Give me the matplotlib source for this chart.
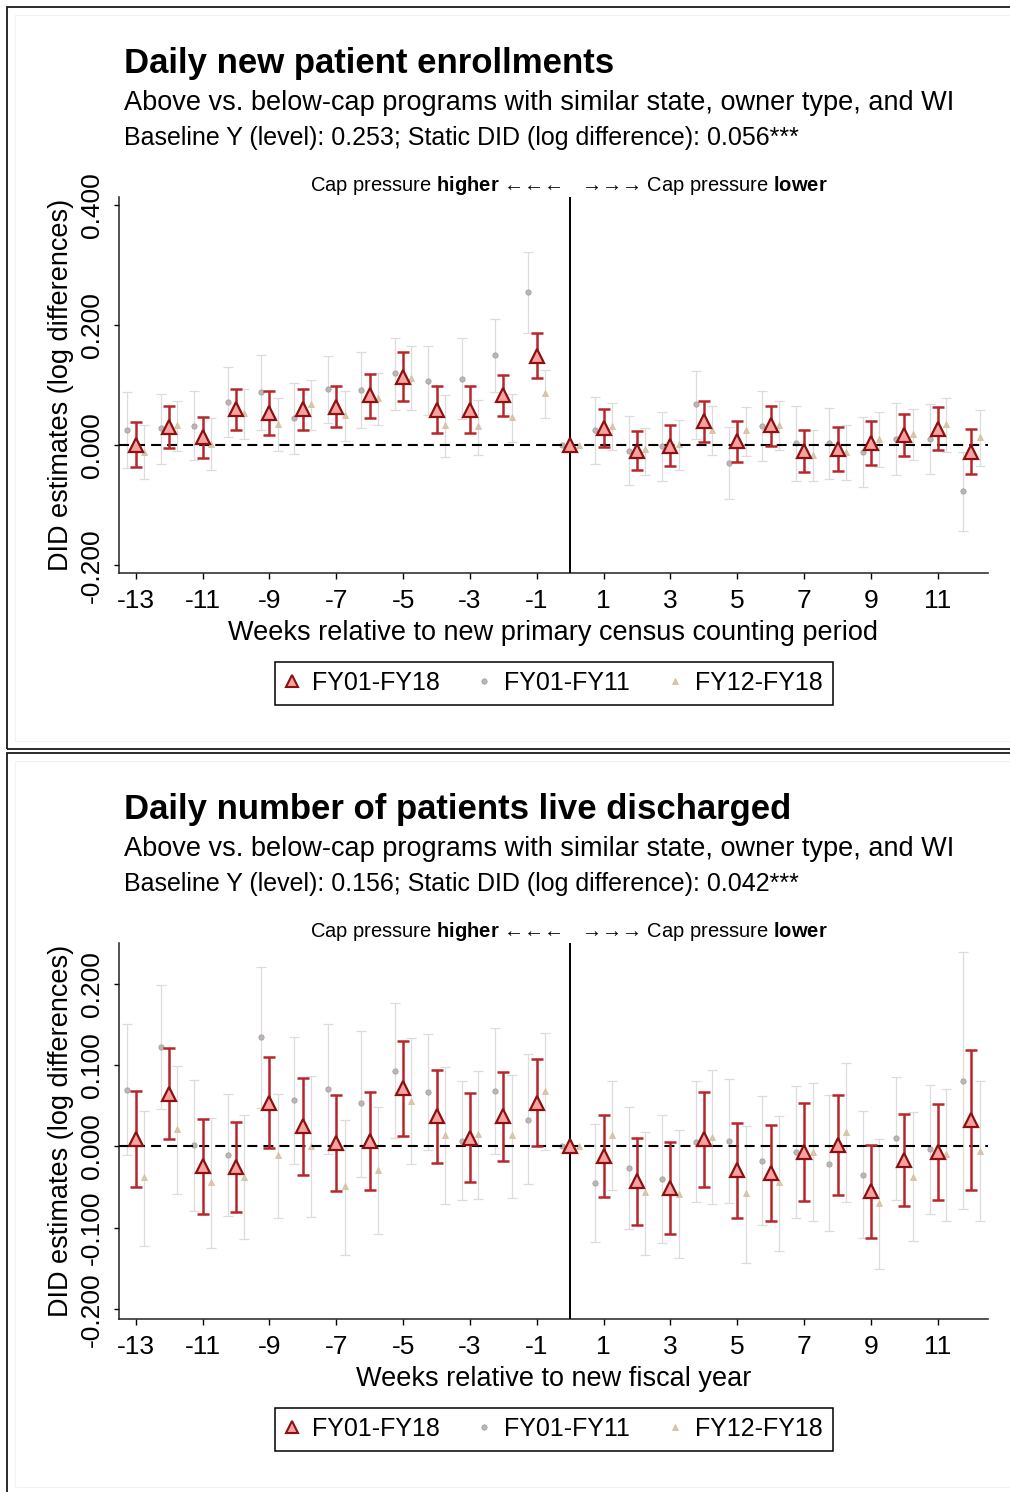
import numpy as np
import matplotlib.pyplot as plt
from matplotlib.lines import Line2D
from matplotlib.patches import Rectangle
from matplotlib.ticker import FormatStrFormatter

plt.rcParams['font.family'] = ['Liberation Sans', 'DejaVu Sans']
plt.rcParams['mathtext.fontset'] = 'custom'
plt.rcParams['mathtext.rm'] = 'Liberation Sans'
plt.rcParams['mathtext.bf'] = 'Liberation Sans:bold'
plt.rcParams['axes.unicode_minus'] = False

W, H = 1010, 1492
nan = np.nan

weeks = np.arange(-13, 13)
labels = ['FY01-FY18', 'FY01-FY11', 'FY12-FY18']

# --- Daily new patient enrollments ---
enr_all = [0.001, 0.031, 0.013, 0.060, 0.054, 0.060, 0.064, 0.083, 0.114, 0.059, 0.059, 0.084, 0.149, 0,
           0.029, -0.009, -0.001, 0.040, 0.007, 0.033, -0.010, -0.007, 0.003, 0.017, 0.027, -0.011]
enr_all_lo = [-0.036, -0.004, -0.022, 0.026, 0.017, 0.026, 0.031, 0.046, 0.074, 0.020, 0.020, 0.049, 0.112, nan,
              -0.003, -0.042, -0.035, 0.006, -0.028, -0.001, -0.045, -0.043, -0.033, -0.018, -0.008, -0.048]
enr_all_hi = [0.038, 0.065, 0.047, 0.093, 0.091, 0.094, 0.098, 0.119, 0.155, 0.099, 0.098, 0.118, 0.187, nan,
              0.061, 0.024, 0.033, 0.074, 0.041, 0.066, 0.025, 0.030, 0.040, 0.052, 0.063, 0.027]
enr_early = [0.025, 0.028, 0.032, 0.072, 0.088, 0.046, 0.093, 0.092, 0.120, 0.108, 0.111, 0.150, 0.256, 0,
             0.026, -0.009, -0.001, 0.069, -0.029, 0.032, 0.003, 0.003, -0.011, 0.011, 0.011, -0.077]
enr_early_lo = [-0.038, -0.031, -0.025, 0.013, 0.026, -0.014, 0.037, 0.028, 0.059, 0.051, 0.043, 0.089, 0.188, nan,
                -0.031, -0.067, -0.059, 0.011, -0.089, -0.027, -0.059, -0.056, -0.070, -0.050, -0.048, -0.143]
enr_early_hi = [0.089, 0.086, 0.090, 0.131, 0.151, 0.104, 0.149, 0.156, 0.179, 0.166, 0.179, 0.211, 0.322, nan,
                0.081, 0.048, 0.056, 0.124, 0.031, 0.091, 0.066, 0.062, 0.047, 0.071, 0.069, -0.011]
enr_late = [-0.011, 0.033, 0.002, 0.054, 0.035, 0.069, 0.050, 0.079, 0.113, 0.034, 0.032, 0.047, 0.087, 0,
            0.032, -0.007, 0.002, 0.026, 0.026, 0.033, -0.016, -0.012, 0.011, 0.019, 0.035, 0.013]
enr_late_lo = [-0.057, -0.010, -0.042, 0.011, -0.010, 0.026, 0.007, 0.034, 0.058, -0.019, -0.016, 0.006, 0.046, nan,
               -0.008, -0.049, -0.041, -0.017, -0.018, -0.008, -0.060, -0.058, -0.037, -0.024, -0.011, -0.034]
enr_late_hi = [0.033, 0.074, 0.045, 0.094, 0.079, 0.109, 0.091, 0.121, 0.166, 0.084, 0.076, 0.086, 0.126, nan,
               0.071, 0.029, 0.042, 0.066, 0.064, 0.074, 0.026, 0.033, 0.056, 0.061, 0.079, 0.059]

# --- Daily number of patients live discharged ---
dis_all = [0.009, 0.065, -0.024, -0.025, 0.054, 0.025, 0.004, 0.007, 0.072, 0.037, 0.011, 0.037, 0.054, 0,
           -0.012, -0.043, -0.051, 0.009, -0.029, -0.033, -0.007, 0.002, -0.055, -0.017, -0.007, 0.033]
dis_all_lo = [-0.050, 0.009, -0.083, -0.081, -0.002, -0.035, -0.055, -0.053, 0.013, -0.020, -0.044, -0.018, 0.000, nan,
              -0.062, -0.097, -0.107, -0.050, -0.088, -0.092, -0.067, -0.060, -0.112, -0.073, -0.066, -0.053]
dis_all_hi = [0.068, 0.121, 0.034, 0.030, 0.110, 0.084, 0.063, 0.067, 0.130, 0.094, 0.066, 0.092, 0.108, nan,
              0.039, 0.010, 0.006, 0.067, 0.029, 0.026, 0.054, 0.063, 0.002, 0.040, 0.052, 0.119]
dis_early = [0.069, 0.122, 0.002, -0.011, 0.134, 0.057, 0.071, 0.053, 0.093, 0.067, 0.007, 0.068, 0.033, 0,
             -0.045, -0.026, -0.040, 0.006, 0.007, -0.018, -0.007, -0.021, -0.035, 0.010, -0.003, 0.081]
dis_early_lo = [-0.011, 0.046, -0.079, -0.086, 0.047, -0.022, -0.009, -0.037, 0.011, -0.004, -0.066, -0.009, -0.046, nan,
                -0.118, -0.101, -0.119, -0.068, -0.069, -0.097, -0.088, -0.104, -0.112, -0.066, -0.083, -0.077]
dis_early_hi = [0.150, 0.198, 0.082, 0.065, 0.221, 0.135, 0.150, 0.142, 0.176, 0.138, 0.081, 0.146, 0.113, nan,
                0.028, 0.048, 0.039, 0.080, 0.083, 0.062, 0.074, 0.063, 0.043, 0.085, 0.076, 0.239]
dis_late = [-0.038, 0.021, -0.044, -0.037, -0.010, 0.000, -0.049, -0.029, 0.056, 0.014, 0.015, 0.014, 0.068, 0,
            0.014, -0.056, -0.058, 0.012, -0.057, -0.044, -0.007, 0.018, -0.070, -0.037, -0.009, -0.005]
dis_late_lo = [-0.122, -0.059, -0.125, -0.114, -0.088, -0.087, -0.133, -0.108, -0.022, -0.071, -0.064, -0.063, -0.004, nan,
               -0.053, -0.133, -0.137, -0.071, -0.143, -0.129, -0.091, -0.068, -0.151, -0.116, -0.091, -0.092]
dis_late_hi = [0.043, 0.099, 0.035, 0.039, 0.065, 0.086, 0.033, 0.049, 0.133, 0.098, 0.093, 0.088, 0.140, nan,
               0.081, 0.018, 0.020, 0.094, 0.025, 0.038, 0.078, 0.102, 0.009, 0.042, 0.071, 0.081]

RED_BAR = '#b8262b'
RED_FACE = '#f7a1a1'
RED_EDGE = '#8c1010'
GREY_BAR = '#dcdcdc'
CIRC_FACE = '#bdb5b5'
TRI_FACE = '#d3c8b8'


def fx(px):
    return px / W


def fy(py):
    return 1 - py / H


def draw_series(ax, x, est, lo, hi, bar_color, bar_lw, cap, z, **marker):
    est, lo, hi = np.array(est), np.array(lo), np.array(hi)
    ax.errorbar(x, est, yerr=[est - lo, hi - est], fmt='none', ecolor=bar_color,
                elinewidth=bar_lw, capsize=cap, capthick=bar_lw, zorder=z)
    ax.plot(x, est, ls='none', zorder=z + 0.5, **marker)


def draw_panel(fig, dy, title, note, xlabel, yticks, ylim, main, early, late):
    # frame round the sub-graph (Stata combined graph look)
    fig.add_artist(Rectangle((fx(7), fy(dy + 749)), fx(1030), 742 / H,
                             transform=fig.transFigure, fill=False, ec='#1a1a1a', lw=1.3))
    fig.add_artist(Rectangle((fx(15), fy(dy + 741)), fx(1030), 726 / H,
                             transform=fig.transFigure, fill=False, ec='#f2f2f2', lw=0.8))

    fig.text(fx(124), fy(dy + 73), title, fontsize=25, fontweight='bold', va='baseline')
    fig.text(fx(124), fy(dy + 110), 'Above vs. below-cap programs with similar state, owner type, and WI',
             fontsize=19.5, va='baseline')
    fig.text(fx(124), fy(dy + 145), note, fontsize=18, va='baseline')

    ax = fig.add_axes([fx(119), fy(dy + 573), (988 - 119) / W, 376 / H])
    x = weeks.astype(float)

    draw_series(ax, x - 0.25, *early, GREY_BAR, 0.9, 3.8, 2,
                marker='o', ms=3.8, mfc=CIRC_FACE, mec='#a9a1a1', mew=0.6)
    draw_series(ax, x + 0.25, *late, GREY_BAR, 0.9, 3.8, 2,
                marker='^', ms=4.2, mfc=TRI_FACE, mec='#d9b98f', mew=0.5)
    ax.axhline(0, color='black', lw=1.5, dashes=(4.8, 2.9), zorder=3)
    ax.axvline(0, color='black', lw=1.4, zorder=3)
    draw_series(ax, x, *main, RED_BAR, 1.8, 4.6, 4,
                marker='^', ms=9.5, mfc=RED_FACE, mec=RED_EDGE, mew=1.6)

    ax.set_xlim(-13.5, 12.5)
    ax.set_ylim(*ylim)
    ax.set_xticks(range(-13, 13, 2))
    ax.set_yticks(yticks)
    ax.yaxis.set_major_formatter(FormatStrFormatter('%.3f'))
    for side in ['top', 'right']:
        ax.spines[side].set_visible(False)
    for side in ['left', 'bottom']:
        ax.spines[side].set_linewidth(1.1)
        ax.spines[side].set_color('#222222')
    ax.tick_params(axis='x', length=4.5, width=1.0, pad=7, labelsize=19)
    ax.tick_params(axis='y', length=3.8, width=1.0, pad=7, labelsize=19)
    for lab in ax.get_yticklabels():
        lab.set_rotation(90)
        lab.set_va('center')

    ax.set_xlabel(xlabel, fontsize=19.5)
    ax.xaxis.set_label_coords(0.5, -0.125)
    ax.set_ylabel('DID estimates (log differences)', fontsize=19.5)
    ax.yaxis.set_label_coords(-0.052, 0.5)

    ax.annotate(r'Cap pressure $\mathbf{higher}$ ←←←', xy=(0, 1), xycoords=('data', 'axes fraction'),
                xytext=(-6, 4), textcoords='offset points', ha='right', va='baseline', fontsize=14.5)
    ax.annotate(r'→→→ Cap pressure $\mathbf{lower}$', xy=(0, 1), xycoords=('data', 'axes fraction'),
                xytext=(8, 4), textcoords='offset points', ha='left', va='baseline', fontsize=14.5)

    handles = [
        Line2D([], [], ls='none', marker='^', ms=9, mfc=RED_FACE, mec=RED_EDGE, mew=1.5, label=labels[0]),
        Line2D([], [], ls='none', marker='o', ms=3.8, mfc=CIRC_FACE, mec='#a9a1a1', mew=0.6, label=labels[1]),
        Line2D([], [], ls='none', marker='^', ms=4.2, mfc=TRI_FACE, mec='#d9b98f', mew=0.5, label=labels[2]),
    ]
    leg = ax.legend(handles=handles, ncol=3, loc='upper center', bbox_to_anchor=(0.5, -0.236),
                    fontsize=18, frameon=True, fancybox=False, edgecolor='black', framealpha=1,
                    borderaxespad=0, borderpad=0.38, handlelength=0.6, handletextpad=0.5,
                    columnspacing=1.5)
    leg.get_frame().set_linewidth(1.1)
    return ax


fig = plt.figure(figsize=(W / 100, H / 100), dpi=100)

draw_panel(fig, 0, 'Daily new patient enrollments',
           'Baseline Y (level): 0.253; Static DID (log difference): 0.056***',
           'Weeks relative to new primary census counting period',
           [-0.2, 0.0, 0.2, 0.4], (-0.213, 0.414),
           (enr_all, enr_all_lo, enr_all_hi),
           (enr_early, enr_early_lo, enr_early_hi),
           (enr_late, enr_late_lo, enr_late_hi))

draw_panel(fig, 746, 'Daily number of patients live discharged',
           'Baseline Y (level): 0.156; Static DID (log difference): 0.042***',
           'Weeks relative to new fiscal year',
           [-0.2, -0.1, 0.0, 0.1, 0.2], (-0.212, 0.25),
           (dis_all, dis_all_lo, dis_all_hi),
           (dis_early, dis_early_lo, dis_early_hi),
           (dis_late, dis_late_lo, dis_late_hi))

fig.savefig('out.png', dpi=100)
